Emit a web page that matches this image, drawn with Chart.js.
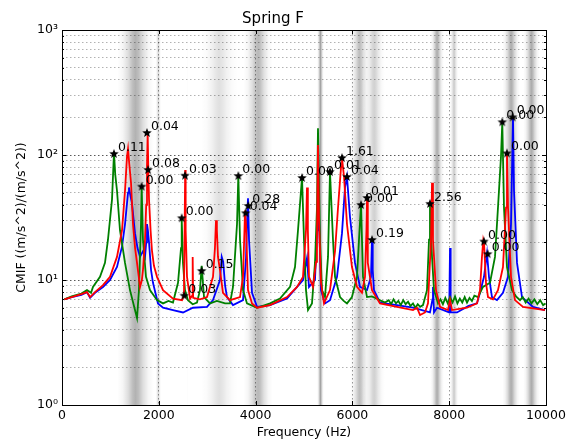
<!DOCTYPE html>
<html>
<head>
<meta charset="utf-8">
<script src="https://cdn.jsdelivr.net/npm/chart.js@4"></script>
<style>
  html, body { margin: 0; padding: 0; background: #fff; }
  #wrap { width: 576px; height: 443px; }
</style>
</head>
<body>
<div id="wrap"><canvas id="chart_one" width="576" height="443"></canvas></div>
<script>
// CMIF curves (Hz, (m/s^2)/(m/s^2))
var redF = [50,200,400,516,580,682,847,992,1136,1240,1302,1343,1364,1390,1426,1467,1510,1550,1612,1650,1673,1715,1740,1756,1770,1785,1798,1830,1860,1900,1963,2087,2293,2480,2520,2535,2545,2555,2583,2645,2690,2700,2710,2850,2996,3120,3160,3182,3200,3223,3264,3326,3471,3678,3740,3770,3781,3802,3843,3926,4029,4298,4649,4856,4979,5041,5062,5080,5103,5186,5250,5268,5289,5310,5351,5413,5537,5641,5703,5765,5785,5805,5827,5888,5991,6095,6198,6260,6290,6302,6315,6322,6405,6570,6921,7252,7335,7397,7500,7562,7624,7645,7665,7727,7810,7975,8017,8058,8368,8574,8636,8677,8705,8719,8760,8802,8905,9008,9111,9174,9194,9215,9277,9359,9525,9979];
var redV = [7.0,7.3,7.7,8.0,7.3,8.0,9.1,10.6,15.3,25,52,97,112,85,60,28,18,13.7,8.8,10,12,21,40,80,150,70,44,25,17,13,10.6,8.3,7.1,6.9,7.5,30,76,25,10.6,7.1,7.5,15.3,7.2,7.0,7.3,10.6,18,30,25,15.3,12,7.9,6.9,7.3,10.6,25,36,28,8.3,6.5,6.0,6.3,7.3,8.8,10.6,25,55,25,10.6,8.8,14,21,120,30,9.5,6.5,8.3,17,38,80,95,80,67,28,12.7,8.8,7.9,10.6,25,44,22,13.7,8.3,6.5,6.1,5.75,6.0,5.25,5.5,6.5,21,60,21,8.3,6.1,5.75,6.9,5.75,6.0,6.5,8.3,15.3,21,20,9.5,7.3,7.0,8.3,12.7,38,104,38,10.6,6.9,6.1,5.75];

var greenF = [50,200,400,516,600,640,785,888,950,1033,1074,1100,1136,1198,1302,1405,1508,1550,1590,1632,1646,1673,1735,1818,1963,2087,2200,2293,2397,2459,2473,2500,2541,2603,2700,2789,2851,2886,2934,3058,3200,3368,3471,3533,3616,3643,3678,3740,3822,4029,4298,4504,4711,4814,4876,4959,5000,5041,5083,5165,5227,5268,5289,5330,5372,5434,5496,5537,5599,5641,5744,5820,5888,5991,6095,6136,6178,6219,6302,6400,6508,6600,6673,6750,6800,6850,6900,6950,7000,7050,7100,7150,7200,7252,7300,7350,7400,7459,7541,7583,7603,7645,7686,7769,7820,7870,7920,7970,8017,8070,8120,8170,8220,8270,8320,8368,8420,8470,8520,8595,8698,8843,8946,9008,9070,9097,9132,9194,9297,9380,9463,9520,9580,9640,9700,9760,9820,9880,9940,9990];
var greenV = [7.0,7.4,7.8,8.3,7.9,8.8,10.6,13.7,21,44,104,70,52,25,13.7,8.3,5.75,4.96,8.3,28,56,21,10.6,8.3,6.9,6.5,6.8,6.6,9.5,18,31,13.7,8.3,6.9,6.4,6.6,8.3,13,7.3,6.5,6.8,6.5,6.5,8.8,28,68,21,8.3,6.5,6.0,6.5,7.1,8.8,12.7,25,66,21,8.3,5.75,6.5,13.7,38,164,21,8.3,7.3,15.3,73,21,10.6,7.3,6.8,6.5,7.3,10.6,21,40,10.6,7.3,7.4,7.1,6.8,6.6,6.9,6.4,7.0,6.5,6.8,6.3,6.9,6.4,6.7,6.2,6.5,6.0,6.4,6.1,6.3,8.3,21,40,15.3,8.3,6.5,7.0,6.4,7.2,6.5,7.3,6.6,7.4,6.5,7.1,6.6,7.3,6.6,7.2,6.8,7.5,7.3,8.8,9.5,15.3,38,97,184,38,12.7,8.3,7.4,6.9,7.3,6.6,7.1,6.5,7.0,6.4,6.9,6.3,6.5];

var blueF = [50,200,400,516,580,682,847,992,1136,1240,1302,1364,1384,1410,1446,1508,1560,1612,1673,1715,1740,1756,1775,1798,1840,1880,1983,2087,2293,2500,2706,2996,3120,3264,3300,3330,3370,3409,3533,3740,3802,3830,3843,3864,3926,4029,4298,4649,4979,5062,5103,5227,5270,5289,5305,5351,5434,5537,5682,5785,5847,5888,5950,6054,6157,6302,6384,6405,6420,6446,6570,6921,7252,7603,7655,7665,7686,7748,8000,8017,8030,8161,8400,8574,8636,8719,8781,8822,8884,8987,9111,9215,9277,9318,9339,9401,9504,9731,9979];
var blueV = [7.0,7.3,7.6,8.0,7.2,7.9,8.8,10,12.7,18.5,28,50,55,48,41,23.7,18,15.3,17,15.3,20,28,25,20,12,9.5,6.5,6.0,5.75,5.5,6.0,6.1,6.9,10,15.3,14,9,7.3,6.3,6.9,15,35,45,21,7.9,6.1,6.3,7.1,10,15,8.8,10,25,150,40,8.3,6.5,6.9,10.6,23.7,55,67,32,13.7,8.8,8.3,10.6,21,12,8.3,6.6,6.3,6.0,5.5,7,8.8,5.5,6.0,5.5,18,5.5,5.5,6.2,6.5,7.9,10.6,16.4,10.6,7.3,6.9,7.9,10.6,28,201,52,13.7,7.3,6.1,5.75];

// picked peaks (black stars) and their labels
var starF = [1074,1756,1646,1777,2541,2473,3643,3849,3795,2886,2527,4959,5537,5785,5888,6178,6302,6405,7603,8719,8795,9097,9311,9194];
var starV = [102,150,55.8,76,68.3,31.2,67.9,39.1,34.2,11.8,7.49,65.5,73.1,94.6,66.7,39.8,45.3,20.9,40.6,20.3,16.1,183,200,103];
var starLabels = ["0.11","0.04","0.00","0.08","0.03","0.00","0.00","0.28","0.04","0.15","0.03","0.00","0.01","1.61","0.04","0.00","0.01","0.19","2.56","0.00","0.00","0.00","0.00","0.00"];

// shaded frequency bands (Hz)
var bandCenter = [1520,1990,2600,2665,3250,4050,5340,6150,6450,7750,8100,9280,9700];
var bandHalf   = [380,60,8,8,380,300,70,200,220,140,90,180,170];
var bandShade  = [0.3,0.15,0.3,0.3,0.12,0.28,0.36,0.26,0.18,0.32,0.2,0.32,0.32];

var xTicks = [0,2000,4000,6000,8000,10000];
var yMajors = [1,10,100,1000];
var yTickLabels = ["10\u2070","10\u00b9","10\u00b2","10\u00b3"];

var FONT = "'DejaVu Sans', sans-serif";

var pairs = (f, v) => f.map((x, i) => ({x: x, y: v[i]}));

var makeStar = (r) => {
	var c = document.createElement("canvas");
	c.width = c.height = 2 * r + 2;
	var g = c.getContext("2d");
	g.fillStyle = "#000";
	g.beginPath();
	for (let i = 0; i < 10; i++) {
		let a = -Math.PI / 2 + i * Math.PI / 5;
		let rr = i % 2 ? r * 0.42 : r;
		g.lineTo(r + 1 + rr * Math.cos(a), r + 1 + rr * Math.sin(a));
	}
	g.closePath();
	g.fill();
	return c;
};

var yGridVals = [];
for (let d = 0; d < 3; d++) {
	for (let k = 1; k < 10; k++) yGridVals.push(k * yMajors[d]);
}
yGridVals.push(1000);

var decor = {
	id: "decor",
	beforeDraw(chart) {
		var ctx = chart.ctx, a = chart.chartArea, xs = chart.scales.x;
		ctx.save();
		ctx.fillStyle = "#fff";
		ctx.fillRect(0, 0, chart.width, chart.height);
		ctx.beginPath();
		ctx.rect(a.left, a.top, a.right - a.left, a.bottom - a.top);
		ctx.clip();
		bandCenter.forEach((c, i) => {
			var x0 = xs.getPixelForValue(c - bandHalf[i]);
			var x1 = xs.getPixelForValue(c + bandHalf[i]);
			var s = bandShade[i];
			var gr = ctx.createLinearGradient(x0, 0, x1, 0);
			// soft bell-like profile
			[[0, 0], [0.15, 0.12], [0.3, 0.45], [0.42, 0.85], [0.5, 1], [0.58, 0.85], [0.7, 0.45], [0.85, 0.12], [1, 0]].forEach(st => {
				gr.addColorStop(st[0], "rgba(0,0,0," + (s * st[1]).toFixed(3) + ")");
			});
			ctx.fillStyle = gr;
			ctx.fillRect(x0, a.top, x1 - x0, a.bottom - a.top);
		});
		ctx.restore();
	},
	afterDatasetsDraw(chart) {
		var ctx = chart.ctx;
		var meta = chart.getDatasetMeta(0);
		ctx.save();
		ctx.font = "12.5px " + FONT;
		ctx.fillStyle = "#000";
		ctx.textAlign = "left";
		ctx.textBaseline = "alphabetic";
		meta.data.forEach((p, i) => {
			ctx.fillText(starLabels[i], p.x + 4, p.y - 3);
		});
		ctx.restore();
	},
	afterDraw(chart) {
		var ctx = chart.ctx, a = chart.chartArea, xs = chart.scales.x, ys = chart.scales.y;
		ctx.save();
		ctx.strokeStyle = "#000";
		ctx.lineWidth = 1;
		ctx.beginPath();
		xTicks.slice(1, -1).forEach(v => {
			var x = Math.round(xs.getPixelForValue(v)) + 0.5;
			ctx.moveTo(x, a.bottom); ctx.lineTo(x, a.bottom - 4);
			ctx.moveTo(x, a.top); ctx.lineTo(x, a.top + 4);
		});
		yGridVals.forEach(v => {
			var y = Math.round(ys.getPixelForValue(v)) + 0.5;
			var len = yMajors.indexOf(v) >= 0 ? 4 : 2;
			ctx.moveTo(a.left, y); ctx.lineTo(a.left + len, y);
			ctx.moveTo(a.right, y); ctx.lineTo(a.right - len, y);
		});
		ctx.stroke();
		ctx.strokeRect(Math.round(a.left) + 0.5, Math.round(a.top) + 0.5, Math.round(a.right - a.left), Math.round(a.bottom - a.top));
		ctx.restore();
	}
};

var ctx_one = document.getElementById("chart_one").getContext("2d");

var chart_one = new Chart(ctx_one, {
	type: "line",
	data: {
		datasets: [
			{
				label: "peaks",
				data: pairs(starF, starV),
				showLine: false,
				pointStyle: makeStar(5),
				pointRadius: 5,
				clip: false
			},
			{
				label: "red",
				data: pairs(redF, redV),
				borderColor: "#ff0000",
				borderWidth: 1.8,
				pointRadius: 0,
				tension: 0
			},
			{
				label: "green",
				data: pairs(greenF, greenV),
				borderColor: "#008000",
				borderWidth: 1.8,
				pointRadius: 0,
				tension: 0
			},
			{
				label: "blue",
				data: pairs(blueF, blueV),
				borderColor: "#0000ff",
				borderWidth: 1.8,
				pointRadius: 0,
				tension: 0
			}
		]
	},
	options: {
		responsive: false,
		animation: false,
		events: [],
		layout: { padding: { left: 0, right: 30, top: 0, bottom: 0 } },
		plugins: {
			legend: { display: false },
			tooltip: { enabled: false },
			title: {
				display: true,
				text: "Spring F",
				color: "#000",
				font: { family: FONT, size: 15, weight: "normal" },
				padding: { top: 10, bottom: 2 }
			}
		},
		scales: {
			x: {
				type: "linear",
				min: 0,
				max: 10000,
				afterFit: (s) => { s.height = 38; },
				afterBuildTicks: (s) => { s.ticks = xTicks.map(v => ({value: v})); },
				ticks: {
					autoSkip: false,
					maxRotation: 0,
					padding: 3,
					color: "#000",
					font: { family: FONT, size: 12.5 },
					callback: (v) => String(v)
				},
				grid: {
					drawTicks: false,
					lineWidth: 1,
					color: (c) => (c.tick && (c.tick.value === 0 || c.tick.value === 10000)) ? "rgba(0,0,0,0)" : "rgba(0,0,0,0.4)"
				},
				border: { display: false, dash: [1.5, 2.5] },
				title: {
					display: true,
					text: "Frequency (Hz)",
					color: "#000",
					font: { family: FONT, size: 12.5 },
					padding: { top: 0, bottom: 3 }
				}
			},
			y: {
				type: "logarithmic",
				min: 1,
				max: 1000,
				afterFit: (s) => { s.width = 62; },
				afterBuildTicks: (s) => { s.ticks = yGridVals.map(v => ({value: v})); },
				ticks: {
					autoSkip: false,
					padding: 4,
					color: "#000",
					font: { family: FONT, size: 12.5 },
					callback: (v) => {
						var i = yMajors.indexOf(v);
						return i >= 0 ? yTickLabels[i] : "";
					}
				},
				grid: {
					drawTicks: false,
					lineWidth: 1,
					color: (c) => (c.tick && yMajors.indexOf(c.tick.value) >= 0) ? "rgba(0,0,0,0.65)" : "rgba(0,0,0,0.3)"
				},
				border: { display: false, dash: [1.5, 2.5] },
				title: {
					display: true,
					text: "CMIF ((m/s^2)/(m/s^2))",
					color: "#000",
					font: { family: FONT, size: 12.5 },
					padding: { top: 14, bottom: 0 }
				}
			}
		}
	},
	plugins: [decor]
});
</script>
</body>
</html>
